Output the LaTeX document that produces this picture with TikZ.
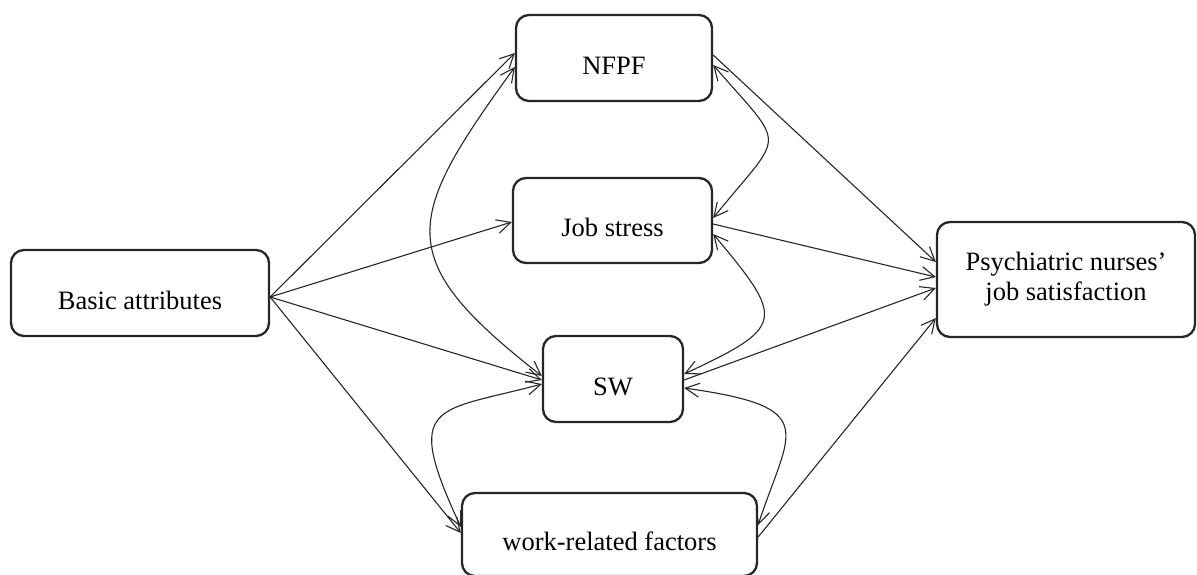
\documentclass[tikz,border=0pt]{standalone}
\usepackage{fontspec}
\setmainfont{Liberation Serif}
\usetikzlibrary{arrows.meta}
\begin{document}
\begin{tikzpicture}[x=1pt,y=1pt,
  boxbase/.style={draw=black!85, line width=2.3pt, rounded corners=13pt, inner sep=0pt,
    font=\fontsize{26.5}{30}\selectfont},
  box/.style={boxbase, text height=32pt, text depth=0pt},
  box2/.style={boxbase, align=center},
  conn/.style={line width=1.1pt, draw=black!85, -{Straight Barb[length=14pt,width=14pt]}},
  bi/.style={line width=1.1pt, draw=black!85, {Straight Barb[length=14pt,width=14pt]}-{Straight Barb[length=14pt,width=14pt]}}]
\useasboundingbox (0,0) rectangle (1197,-574);

\node[box, minimum width=258pt, minimum height=86pt] (basic) at (140,-293) {Basic attributes};
\node[box, minimum width=196pt, minimum height=86pt] (nfpf) at (614,-58) {NFPF};
\node[box, minimum width=199pt, minimum height=85pt] (job) at (612.5,-220.5) {Job stress};
\node[box, minimum width=140pt, minimum height=86pt] (sw) at (613,-379) {SW};
\node[box, minimum width=295pt, minimum height=83pt] (work) at (609.5,-534.5) {work-related factors};
\node[box2, minimum width=258pt, minimum height=115pt] (psych) at (1066,-279.5) {Psychiatric nurses’\\job satisfaction};

% from basic attributes
\draw[conn] ([yshift=-4pt]basic.east) -- ([yshift=5pt]nfpf.west);
\draw[conn] ([yshift=-4pt]basic.east) -- ([yshift=-1.5pt]job.west);
\draw[conn] ([yshift=-4pt]basic.east) -- ([yshift=-1pt]sw.west);
\draw[conn] ([yshift=-4pt]basic.east) -- ([yshift=1.5pt]work.west);

% left curves
\draw[bi] ([yshift=-9pt]nfpf.west) .. controls +(234:190) and +(142:190) .. ([yshift=3pt]sw.west);
\draw[bi] ([yshift=-5pt]sw.west) .. controls +(195:110) and +(115:140) .. ([yshift=7.5pt]work.west);

% to psychiatric nurses' job satisfaction
\draw[conn] ([yshift=3pt]nfpf.east) -- ([yshift=17.5pt]psych.west);
\draw[conn] ([yshift=-3.5pt]job.east) -- ([yshift=2.5pt]psych.west);
\draw[conn] ([yshift=-1pt]sw.east) -- ([yshift=-8.5pt]psych.west);
\draw[conn] ([yshift=-2.5pt]work.east) -- ([yshift=-38.5pt]psych.west);

% right curves
\draw[bi] ([yshift=-7pt]nfpf.east) .. controls +(-49:114) and +(51:114) .. ([yshift=2.5pt]job.east);
\draw[bi] ([yshift=-13.5pt]job.east) .. controls +(-50:112) and +(25:112) .. ([yshift=5pt]sw.east);
\draw[bi] ([yshift=-9pt]sw.east) .. controls +(-8:140) and +(72:100) .. ([yshift=9.5pt]work.east);
\end{tikzpicture}
\end{document}
